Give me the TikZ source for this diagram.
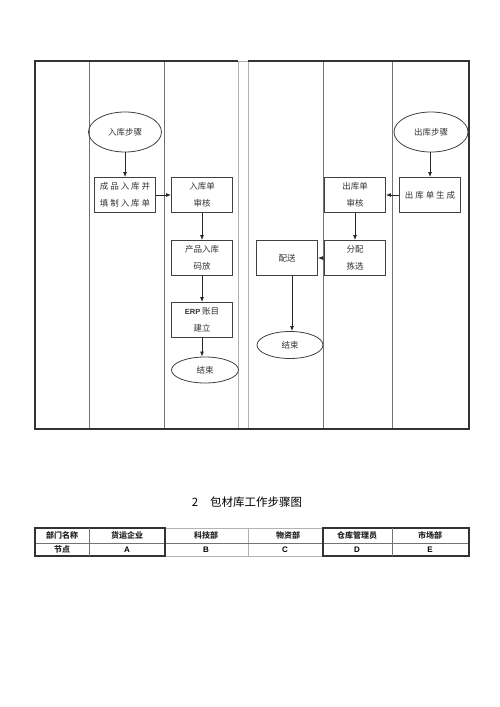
\documentclass[tikz,border=0pt]{standalone}
\usepackage{fontspec}
\setmainfont{Liberation Serif}
\setsansfont{Liberation Sans}
\newfontfamily\cjk{Noto Sans CJK SC}
\usetikzlibrary{arrows.meta,shapes.geometric}

\begin{document}
\begin{tikzpicture}[x=1pt,y=-1pt,
    frame/.style={draw=black!80,line width=1.4pt},
    lane/.style={draw=black!55,line width=0.8pt},
    gap/.style={draw=black!30,line width=0.8pt},
    box/.style={draw=black!75,line width=0.8pt,minimum width=61pt,minimum height=35pt,
        inner sep=1pt,align=center,font=\cjk\fontsize{8.5}{17}\selectfont,text=black!80},
    oval/.style={draw=black!75,line width=0.8pt,ellipse,inner sep=0pt,
        font=\cjk\fontsize{8.5}{10}\selectfont,text=black!80},
    flow/.style={-{Latex[length=5pt,width=4pt]},line width=0.9pt,black!85},
    cell/.style={font=\cjk\bfseries\fontsize{8}{9}\selectfont,text=black!85},
    letter/.style={font=\sffamily\bfseries\fontsize{8}{9}\selectfont}]
    \useasboundingbox (0,0) rectangle (500,707);
    \fill[white] (0,0) rectangle (500,707);
    % lanes
    \draw[lane] (89,61)--(89,429);
    \draw[lane] (164,61)--(164,429);
    \draw[lane] (323,61)--(323,429);
    \draw[lane] (392,61)--(392,429);
    \draw[gap] (238,61)--(238,429);
    \draw[gap] (248,61)--(248,429);
    \draw[gap] (238,61)--(248,61);
    \draw[frame] (238,61)--(35,61)--(35,429)--(469,429)--(469,61)--(248,61);
    % stock in
    \node[oval,minimum width=73pt,minimum height=40pt] (inStart) at (125,132) {入库步骤};
    \node[box] (fillForm) at (125,195) {成 品 入 库 并\\填 制 入 库 单};
    \node[box] (inCheck) at (202,195) {入库单\\审核};
    \node[box] (stack) at (202,258) {产品入库\\码放};
    \node[box] (erp) at (202,320) {{\sffamily\bfseries\fontsize{7.5}{9}\selectfont ERP} 账目\\建立};
    \node[oval,minimum width=67pt,minimum height=26pt] (inEnd) at (205,370) {结束};
    \draw[flow] (inStart)--(fillForm);
    \draw[flow] (fillForm)--(inCheck);
    \draw[flow] (inCheck)--(stack);
    \draw[flow] (stack)--(erp);
    \draw[flow] (erp.south)--(erp.south|-inEnd.north);
    % stock out
    \node[oval,minimum width=74pt,minimum height=40pt] (outStart) at (431,132) {出库步骤};
    \node[box] (outForm) at (430,195) {出 库 单 生 成};
    \node[box] (outCheck) at (355,195) {出库单\\审核};
    \node[box] (pick) at (355,258) {分配\\拣选};
    \node[box] (ship) at (287,258) {配送};
    \node[oval,minimum width=66pt,minimum height=27pt] (outEnd) at (290,345) {结束};
    \draw[flow] (outStart.south-|outForm)--(outForm);
    \draw[flow] (outForm)--(outCheck);
    \draw[flow] (outCheck)--(pick);
    \draw[flow] (pick)--(ship);
    \draw[flow] ([xshift=5pt]ship.south)--([xshift=5pt]ship.south|-outEnd.north);
    % caption
    \node[font=\cjk\fontsize{11.5}{13}\selectfont] (caption) at (247,502) {2\hspace{12pt}包材库工作步骤图};
    % table
    \draw[gap] (165,528)--(323,528);
    \draw[gap] (165,556)--(323,556);
    \draw[gap] (248,528)--(248,556);
    \draw[lane] (35,543)--(469,543);
    \draw[frame,line width=1.2pt] (35,528) rectangle (165,556);
    \draw[frame,line width=1.2pt] (323,528) rectangle (469,556);
    \draw[lane] (89,528)--(89,556);
    \draw[lane] (392,528)--(392,556);
    \node[cell] (dept) at (62,535.5) {部门名称};
    \node[cell] (deptA) at (127,535.5) {货运企业};
    \node[cell] (deptB) at (206,535.5) {科技部};
    \node[cell] (deptC) at (288,535.5) {物资部};
    \node[cell] (deptD) at (357,535.5) {仓库管理员};
    \node[cell] (deptE) at (430,535.5) {市场部};
    \node[cell] (nodeRow) at (62,549.5) {节点};
    \node[letter] (nodeA) at (127,549.5) {A};
    \node[letter] (nodeB) at (206,549.5) {B};
    \node[letter] (nodeC) at (285,549.5) {C};
    \node[letter] (nodeD) at (357,549.5) {D};
    \node[letter] (nodeE) at (430,549.5) {E};
\end{tikzpicture}
\end{document}
